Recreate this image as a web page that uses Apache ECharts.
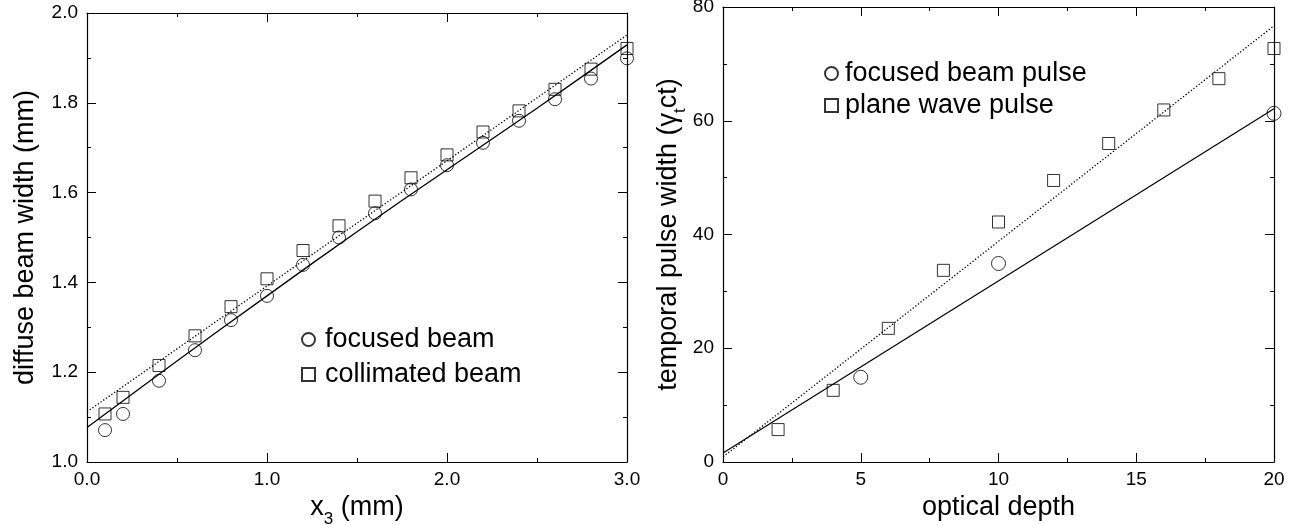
<!DOCTYPE html>
<html>

<head>
    <meta charset="utf-8">
    <title>beam width and pulse width</title>
    <style>
        html, body { margin: 0; padding: 0; background: #fff; }
    </style>
</head>

<body>
    <div id="main" style="width: 1304px;height:525px;"></div>

    <script src="https://cdn.jsdelivr.net/npm/echarts@6/dist/echarts.min.js"></script>
    <script>
        // left panel: diffuse beam width vs x3
        var beamX = [0.1, 0.2, 0.4, 0.6, 0.8, 1.0, 1.2, 1.4, 1.6, 1.8, 2.0, 2.2, 2.4, 2.6, 2.8, 3.0];
        var focusedBeam = [1.071, 1.107, 1.181, 1.249, 1.316, 1.370, 1.439, 1.500, 1.554, 1.607, 1.661, 1.711, 1.760, 1.808, 1.854, 1.899];
        var collimatedBeam = [1.107, 1.144, 1.215, 1.281, 1.346, 1.408, 1.471, 1.526, 1.581, 1.633, 1.684, 1.735, 1.782, 1.830, 1.875, 1.921];
        var beamFitX = [0, 0.5, 1.0, 1.5, 2.0, 2.5, 3.0];
        var focusedFit = [1.077, 1.225, 1.370, 1.513, 1.651, 1.788, 1.929];
        var collimatedFit = [1.112, 1.252, 1.392, 1.532, 1.671, 1.811, 1.951];

        // right panel: temporal pulse width vs optical depth
        var pulseX = [5, 10, 20];
        var focusedPulse = [14.9, 34.9, 61.3];
        var planeX = [2, 4, 6, 8, 10, 12, 14, 16, 18, 20];
        var planePulse = [5.7, 12.6, 23.5, 33.7, 42.2, 49.5, 56.0, 61.9, 67.4, 72.7];
        var pulseFitX = [0, 20];
        var focusedPulseFit = [1.6, 62.1];
        var planePulseFit = [0.9, 76.7];

        function pairs(xs, ys) {
            return xs.map(function (x, i) { return [x, ys[i]]; });
        }

        var FONT = '"Liberation Sans", Arial, Helvetica, sans-serif';

        // axis look shared by all 8 axes (4 per panel, mirrored ticks)
        function axis(gridIndex, position, min, max, interval, showLabel, digits) {
            return {
                type: 'value',
                gridIndex: gridIndex,
                position: position,
                min: min,
                max: max,
                interval: interval,
                splitLine: { show: false },
                axisLine: { show: true, onZero: false, lineStyle: { color: '#000', width: 1.2 } },
                axisTick: { show: true, inside: true, length: 9, lineStyle: { color: '#000', width: 1 } },
                minorTick: { show: true, splitNumber: 2, length: 4, lineStyle: { color: '#000', width: 1 } },
                axisLabel: {
                    show: showLabel,
                    color: '#000',
                    fontSize: 19,
                    fontFamily: FONT,
                    margin: (position === 'left') ? 9 : 8,
                    formatter: function (v) { return v.toFixed(digits); }
                }
            };
        }

        var nameStyle = {
            color: '#000',
            fontSize: 27,
            fontFamily: FONT,
            rich: {
                n: { fontSize: 27, fontFamily: FONT, color: '#000', lineHeight: 30, verticalAlign: 'top' },
                s: { fontSize: 17, fontFamily: FONT, color: '#000', padding: [17, 0, 0, 0], verticalAlign: 'bottom' }
            }
        };

        var xA0 = axis(0, 'bottom', 0, 3, 1, true, 1);
        xA0.name = '{n|x}{s|3}{n| (mm)}';
        xA0.nameLocation = 'middle';
        xA0.nameGap = 19;
        xA0.nameTextStyle = nameStyle;

        var yA0 = axis(0, 'left', 1, 2, 0.2, true, 1);
        yA0.name = 'diffuse beam width (mm)';
        yA0.nameLocation = 'middle';
        yA0.nameGap = 48;
        yA0.nameTextStyle = { color: '#000', fontSize: 27, fontFamily: FONT };

        var xA2 = axis(1, 'bottom', 0, 20, 5, true, 0);
        xA2.name = 'optical depth';
        xA2.nameLocation = 'middle';
        xA2.nameGap = 20;
        xA2.nameTextStyle = { color: '#000', fontSize: 27, fontFamily: FONT };

        var yA2 = axis(1, 'left', 0, 80, 20, true, 0);
        yA2.name = '{n|temporal pulse width (γ}{s|t}{n|ct)}';
        yA2.nameLocation = 'middle';
        yA2.nameGap = 24;
        yA2.nameTextStyle = nameStyle;

        var myChart = echarts.init(document.getElementById('main'), null, { renderer: 'canvas' });

        var hollow = { color: 'transparent', borderColor: '#000', borderWidth: 1 };

        var option = {
            backgroundColor: '#fff',
            animation: false,
            grid: [
                { left: 87, top: 13, width: 540, height: 449, outerBoundsMode: 'none', containLabel: false },
                { left: 723, top: 7, width: 551, height: 455, outerBoundsMode: 'none', containLabel: false }
            ],
            xAxis: [xA0, axis(0, 'top', 0, 3, 1, false, 1), xA2, axis(1, 'top', 0, 20, 5, false, 0)],
            yAxis: [yA0, axis(0, 'right', 1, 2, 0.2, false, 1), yA2, axis(1, 'right', 0, 80, 20, false, 0)],
            legend: [
                {
                    left: 296, top: 321, orient: 'vertical',
                    itemWidth: 13, itemHeight: 13, itemGap: 8,
                    selectedMode: false,
                    textStyle: { color: '#000', fontSize: 27, fontFamily: FONT, lineHeight: 27, padding: [0, 0, 0, 5] },
                    data: [
                        { name: 'focused beam', icon: 'circle' },
                        { name: 'collimated beam', icon: 'rect' }
                    ]
                },
                {
                    left: 819, top: 55, orient: 'vertical',
                    itemWidth: 13, itemHeight: 13, itemGap: 5,
                    selectedMode: false,
                    textStyle: { color: '#000', fontSize: 27, fontFamily: FONT, lineHeight: 27, padding: [0, 0, 0, 2] },
                    data: [
                        { name: 'focused beam pulse', icon: 'circle' },
                        { name: 'plane wave pulse', icon: 'rect' }
                    ]
                }
            ],
            series: [
                {
                    name: 'focused fit', type: 'line', xAxisIndex: 0, yAxisIndex: 0,
                    data: pairs(beamFitX, focusedFit), showSymbol: false, smooth: 0.3,
                    lineStyle: { color: '#000', width: 1.3 }
                },
                {
                    name: 'collimated fit', type: 'line', xAxisIndex: 0, yAxisIndex: 0,
                    data: pairs(beamFitX, collimatedFit), showSymbol: false,
                    lineStyle: { color: '#000', width: 1.3, type: [1.3, 2] }
                },
                {
                    name: 'focused beam', type: 'scatter', xAxisIndex: 0, yAxisIndex: 0,
                    data: pairs(beamX, focusedBeam), symbol: 'circle', symbolSize: 13,
                    itemStyle: hollow
                },
                {
                    name: 'collimated beam', type: 'scatter', xAxisIndex: 0, yAxisIndex: 0,
                    data: pairs(beamX, collimatedBeam), symbol: 'rect', symbolSize: 12,
                    itemStyle: hollow
                },
                {
                    name: 'focused pulse fit', type: 'line', xAxisIndex: 2, yAxisIndex: 2,
                    data: pairs(pulseFitX, focusedPulseFit), showSymbol: false,
                    lineStyle: { color: '#000', width: 1.2 }
                },
                {
                    name: 'plane pulse fit', type: 'line', xAxisIndex: 2, yAxisIndex: 2,
                    data: pairs(pulseFitX, planePulseFit), showSymbol: false,
                    lineStyle: { color: '#000', width: 1.3, type: [1.3, 2] }
                },
                {
                    name: 'focused beam pulse', type: 'scatter', xAxisIndex: 2, yAxisIndex: 2,
                    data: pairs(pulseX, focusedPulse), symbol: 'circle', symbolSize: 14,
                    itemStyle: hollow
                },
                {
                    name: 'plane wave pulse', type: 'scatter', xAxisIndex: 2, yAxisIndex: 2,
                    data: pairs(planeX, planePulse), symbol: 'rect', symbolSize: 12,
                    itemStyle: hollow
                }
            ]
        };

        myChart.setOption(option);
    </script>
</body>

</html>
